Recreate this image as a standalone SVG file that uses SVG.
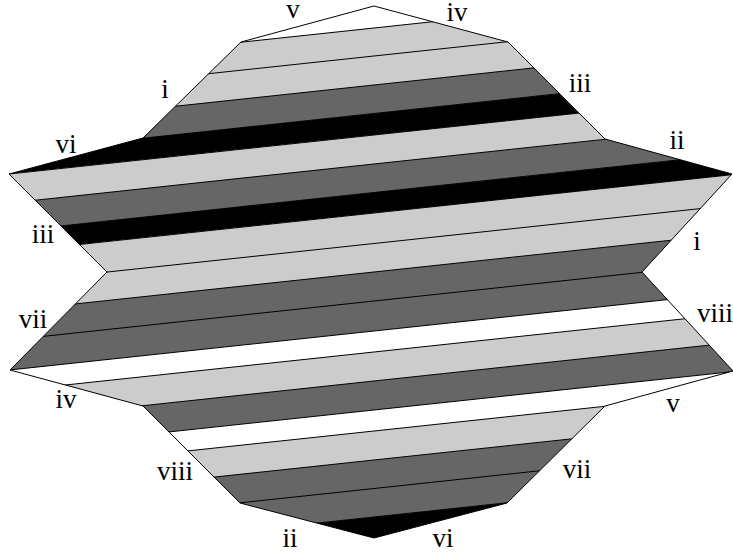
<svg xmlns="http://www.w3.org/2000/svg" width="733" height="554" viewBox="0 0 733 554">
<style>
.lt{fill:#cccccc}
.dk{fill:#666666}
.bk{fill:#000000}
.ln{stroke:#000;stroke-width:1;fill:none}
.lb{font-family:"Liberation Serif","Times New Roman",serif;font-size:27px;fill:#000;text-anchor:middle}
</style>
<defs>
<clipPath id="shape">
<polygon points="374,6 508,42 605,139 732,174 642,272 733,371 605,406 507,503 374,538 240,503 143,406 10,370 107,272 9,174 143,138 241,42"/>
</clipPath>
</defs>
<rect x="0" y="0" width="733" height="554" fill="#fff"/>
<g id="stripes" clip-path="url(#shape)">
<polygon class="lt" points="0,68 733,-10.4 733,46.6 0,125"/>
<polygon class="dk" points="0,125 733,46.6 733,75.1 0,153.5"/>
<polygon class="bk" points="0,153.5 733,75.1 733,96.6 0,175"/>
<polygon class="lt" points="0,175 733,96.6 733,125.6 0,204"/>
<polygon class="dk" points="0,204 733,125.6 733,154.1 0,232.5"/>
<polygon class="bk" points="0,232.5 733,154.1 733,174.6 0,253"/>
<polygon class="lt" points="0,253 733,174.6 733,233.6 0,312"/>
<polygon class="dk" points="0,312 733,233.6 733,292.6 0,371"/>
<polygon class="lt" points="0,392 733,313.6 733,342.6 0,421"/>
<polygon class="dk" points="0,421 733,342.6 733,371.6 0,450"/>
<polygon class="lt" points="0,471 733,392.6 733,421.6 0,500"/>
<polygon class="dk" points="0,500 733,421.6 733,478.6 0,557"/>
<polygon class="bk" points="0,557 733,478.6 733,521.6 0,600"/>
</g>
<g id="stripe-lines" class="ln" clip-path="url(#shape)">
<line x1="0" y1="68" x2="733" y2="-10.4"/>
<line x1="0" y1="96" x2="733" y2="17.6"/>
<line x1="0" y1="125" x2="733" y2="46.6"/>
<line x1="0" y1="153.5" x2="733" y2="75.1"/>
<line x1="0" y1="175" x2="733" y2="96.6"/>
<line x1="0" y1="204" x2="733" y2="125.6"/>
<line x1="0" y1="232.5" x2="733" y2="154.1"/>
<line x1="0" y1="253" x2="733" y2="174.6"/>
<line x1="0" y1="283.5" x2="733" y2="205.1"/>
<line x1="0" y1="312" x2="733" y2="233.6"/>
<line x1="0" y1="341" x2="733" y2="262.6"/>
<line x1="0" y1="371" x2="733" y2="292.6"/>
<line x1="0" y1="392" x2="733" y2="313.6"/>
<line x1="0" y1="421" x2="733" y2="342.6"/>
<line x1="0" y1="450" x2="733" y2="371.6"/>
<line x1="0" y1="471" x2="733" y2="392.6"/>
<line x1="0" y1="500" x2="733" y2="421.6"/>
<line x1="0" y1="528.5" x2="733" y2="450.1"/>
<line x1="0" y1="557" x2="733" y2="478.6"/>
</g>
<g id="outline">
<polygon class="ln" points="374,6 508,42 605,139 732,174 642,272 733,371 605,406 507,503 374,538 240,503 143,406 10,370 107,272 9,174 143,138 241,42"/>
</g>
<g id="labels">
<text class="lb" x="293" y="18">v</text>
<text class="lb" x="457" y="21">iv</text>
<text class="lb" x="165" y="98">i</text>
<text class="lb" x="580" y="92">iii</text>
<text class="lb" x="66" y="153">vi</text>
<text class="lb" x="677" y="149">ii</text>
<text class="lb" x="43" y="243">iii</text>
<text class="lb" x="697" y="250">i</text>
<text class="lb" x="33" y="328">vii</text>
<text class="lb" x="715" y="322">viii</text>
<text class="lb" x="66" y="408">iv</text>
<text class="lb" x="673" y="412">v</text>
<text class="lb" x="175" y="480">viii</text>
<text class="lb" x="577" y="478">vii</text>
<text class="lb" x="290" y="547">ii</text>
<text class="lb" x="443" y="547">vi</text>
</g>
</svg>
